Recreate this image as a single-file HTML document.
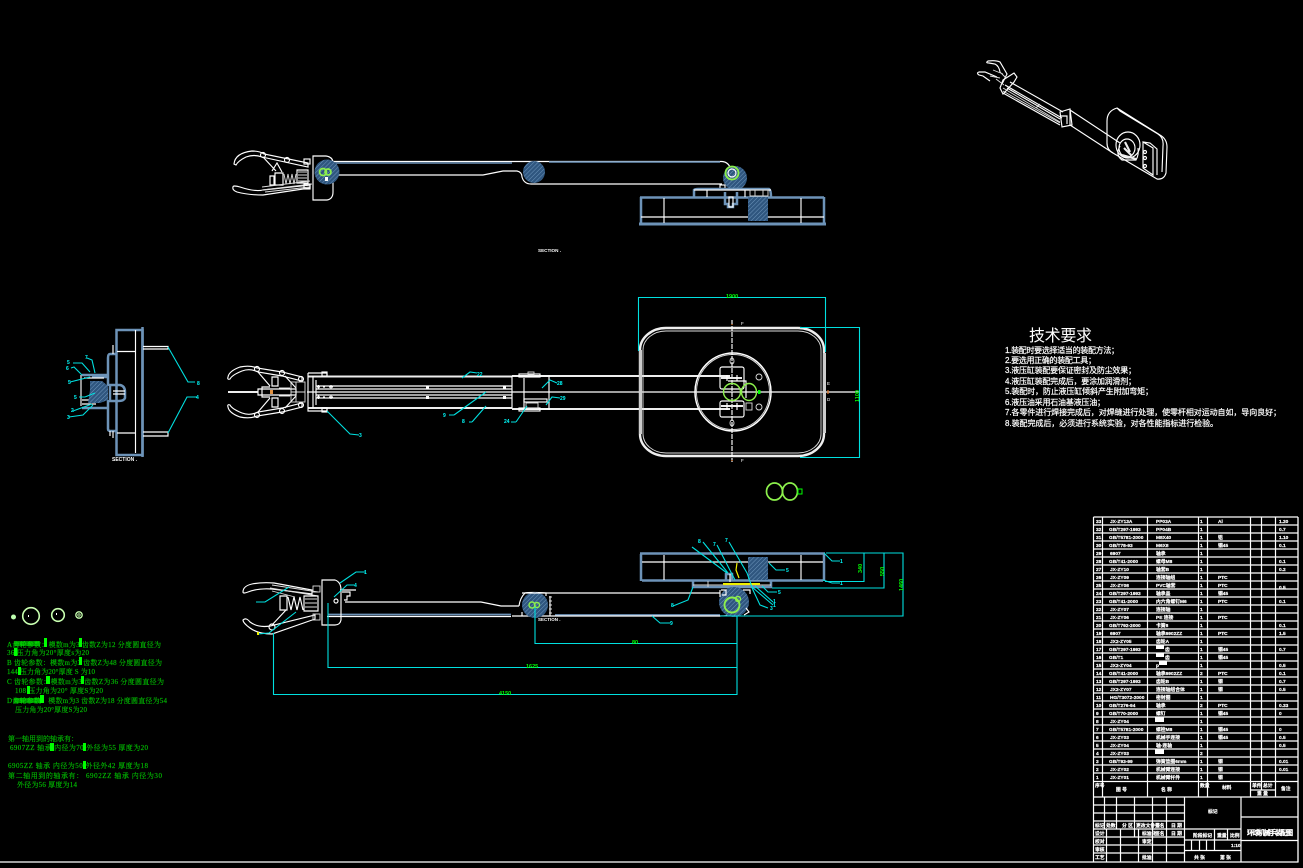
<!DOCTYPE html>
<html><head><meta charset="utf-8"><style>
html,body{margin:0;padding:0;background:#000;width:1303px;height:868px;overflow:hidden}
svg{display:block}
.w{fill:none;stroke:#fff;stroke-width:1.150}
.w2{fill:none;stroke:#eee;stroke-width:2.100}
.t{fill:none;stroke:#ddd;stroke-width:.9}
.b{fill:none;stroke:#6d93b8;stroke-width:2.500}
.c{fill:none;stroke:#00e0e0;stroke-width:1.100}
.g{fill:none;stroke:#8cf04c;stroke-width:1.400}
.h{fill:url(#hat);stroke:none}
.cl{fill:#00ffff;font:bold 5px "Liberation Sans",sans-serif}
.gl{fill:#00ff00;font:bold 5.500px "Liberation Sans",sans-serif}
.tx{fill:#00d800;stroke:#00a000;stroke-width:.15;font:7px "Liberation Serif","Noto Serif CJK SC",serif}
.rq{fill:#fff;stroke:#fff;stroke-width:.2;font:8px "Liberation Sans","Noto Sans CJK SC",sans-serif}
.tb{fill:#fff;stroke:#fff;stroke-width:.2;font:bold 4.800px "Liberation Sans","Noto Sans CJK SC",sans-serif}
</style></head><body>
<svg width="1303" height="868" viewBox="0 0 1303 868" xmlns="http://www.w3.org/2000/svg">
<defs>
<pattern id="hat" width="3" height="3" patternUnits="userSpaceOnUse" patternTransform="rotate(45)">
<rect width="3" height="3" fill="#2f567f"/><line x1="0" y1="0" x2="0" y2="3" stroke="#6d95bb" stroke-width="1"/>
</pattern>
</defs>
<rect width="1303" height="868" fill="#000"/>
<path class="w" d="M0 862H1298V517"/>

<!-- TOP VIEW -->
<g id="top">
<path class="w" d="M333 161.500H722Q729 162 731 170"/>
<path class="b" style="stroke-width:1.600" d="M334 163H512M549 162H720"/>
<path class="w" d="M335 175H483L503 171H517Q522 172 522 177Q524 184 531 184H722"/>
<circle class="h" cx="534" cy="172" r="11"/>
<circle class="h" cx="735" cy="178" r="12"/>
<circle class="g" style="stroke-width:1.800" cx="732" cy="173" r="6.500"/>
<circle class="w" cx="732" cy="173" r="4"/>
<rect class="w" x="720" y="185" width="5" height="4"/>
<!-- base -->
<path class="b" d="M640 197.500H824M641 197V224M824 197V224"/>
<path class="b" style="stroke-width:3" d="M639 224H826"/>
<path class="w" d="M641 217H824M664 198V223M801 198V223"/>
<path class="b" d="M694 197V190Q695 189 698 189H769Q771 190 771 197"/>
<path class="w" d="M694 190H771M707 190V197M745 190V197"/>
<rect class="h" x="748" y="197" width="20" height="24"/>
<path class="b" d="M725 192V204H728V207H733V204H737V192"/>
<rect class="w" x="729" y="197" width="4" height="10"/>
<path class="t" d="M750 190H768V196H750ZM755 190V196M763 190V196"/>
<!-- head -->
<path class="w" d="M313 156V200H327Q333 199 333 192V163Q333 157 326 156Z"/>
<circle class="h" cx="327" cy="172" r="12.500"/>
<circle class="g" style="stroke-width:1.700" cx="323" cy="172" r="3.500"/>
<circle class="g" style="stroke-width:1.700" cx="328" cy="172" r="3"/>
<rect x="325" y="177" width="3" height="4" fill="#fff"/>
<!-- gripper -->
<path class="w" d="M234 164Q235 153 252 151Q260 151 264 154L308 163L308 167L262 157Q254 154 246 157Q238 161 236 165Z"/>
<circle class="w" cx="263" cy="155" r="2.500"/>
<circle class="w" cx="287" cy="160" r="2.500"/>
<path class="w" d="M263 157L276 171M272 171L277 163L282 172"/>
<path class="w" d="M270 176H274V185H270ZM275 173H283V185H275ZM297 170H308V183H297Z"/>
<path class="t" d="M284 174L286 184L288 174L290 184L292 174L294 184L296 174M298 172H307M298 175H307M298 178H307M298 181H307"/>
<path class="w" d="M233 187Q233 185 240 187Q255 192 263 190L310 185V188L263 195Q248 195 237 192Q232 190 233 187Z"/>
<path class="t" d="M262 190L312 184M265 192L310 187M262 187L310 181"/>
<rect class="w" x="304" y="159" width="6" height="5"/>
<rect class="w" x="304" y="184" width="6" height="5"/>
<text x="538" y="252" fill="#fff" style="font:bold 4.600px 'Liberation Sans',sans-serif">SECTION  .</text>
</g>

<!-- MIDDLE VIEW -->
<g id="mid">
<path class="w2" d="M308 376.500H512M308 408H512M512 376H730M512 409H730"/>
<path class="w" d="M316 380V405M512 376V408M316 389H512M316 395H512M307 392H860"/>
<path class="w" d="M316 386H512M316 398H512"/>
<rect x="426" y="386" width="3" height="3" fill="#fff"/><rect x="426" y="396" width="3" height="3" fill="#fff"/>
<rect x="503" y="386" width="3" height="3" fill="#fff"/><rect x="503" y="396" width="3" height="3" fill="#fff"/>
<path class="w" d="M317 387h3M318.500 385v4M323 387h2M329 387h4M331 385v4M317 397h3M318.500 395v4M323 397h2M329 397h4M331 395v4"/>
<!-- joint -->
<path class="w" d="M524 378V408M549 375V410M518 376H550M518 409H550"/>
<rect class="w" x="519" y="374" width="21" height="3"/>
<rect class="w" x="519" y="408" width="21" height="3"/>
<rect class="w" x="524" y="399" width="23" height="3"/>
<rect class="t" x="526" y="403" width="12" height="5"/>
<rect class="t" x="528" y="372" width="6" height="3"/>
<!-- base plate -->
<rect class="w2" x="640" y="328" width="184" height="128" rx="26" ry="22" style="stroke-width:2.400"/>
<rect class="t" x="643" y="331" width="178" height="122" rx="23" ry="19"/>
<rect x="823" y="353" width="3" height="80" fill="#ccc"/>
<rect x="639" y="350" width="3" height="84" fill="#ccc"/>
<ellipse class="w" cx="733" cy="392" rx="38" ry="39" style="stroke-width:1.500"/>
<ellipse class="t" cx="733" cy="392" rx="36.500" ry="37.500"/>
<path class="w" d="M732 320V462" stroke-dasharray="5 1"/>
<rect class="w" x="720" y="367" width="24" height="22" rx="2"/>
<rect class="w" x="720" y="401" width="24" height="16" rx="2"/>
<path class="w2" d="M721 378H742M721 406H743"/>
<path class="w" d="M727 375V381M737 375V381M727 403V410M737 403V410M728 381H746V398"/>
<rect class="t" x="746" y="403" width="6" height="7"/>
<ellipse class="t" cx="732" cy="361" rx="2" ry="3"/>
<ellipse class="t" cx="732" cy="423" rx="2" ry="3"/>
<circle class="t" cx="759" cy="377" r="3"/>
<circle class="t" cx="759" cy="407" r="3"/>
<ellipse class="g" cx="732" cy="392" rx="8.500" ry="8.500"/>
<ellipse class="g" cx="749" cy="392" rx="7.500" ry="8.500"/>
<rect x="758" y="390" width="2.500" height="4" fill="#00ff00"/>
<path stroke="#e07020" stroke-width="1.200" d="M732 324V325M732 460V461M828 390V394" fill="none"/>
<text x="741" y="325" fill="#fff" style="font:4.500px 'Liberation Sans',sans-serif">F</text>
<text x="741" y="462" fill="#fff" style="font:4.500px 'Liberation Sans',sans-serif">F</text>
<text x="827" y="385" fill="#fff" style="font:4.500px 'Liberation Sans',sans-serif">E</text>
<text x="827" y="401" fill="#fff" style="font:4.500px 'Liberation Sans',sans-serif">D</text>
<!-- dims -->
<path class="c" d="M638.500 351V297.500H825.500V352M800 327.500H859.500V457.500H800"/>
<text class="gl" x="726" y="298">1900</text>
<text class="gl" transform="translate(859,402) rotate(-90)">1100</text>
<!-- gripper -->
<g id="gr">
<path class="w" d="M228 377Q229 371 240 367Q250 365 257 368L282 372L302 377V381L282 376L258 372Q250 368 242 371Q232 375 230 379Q227 380 228 377Z"/>
<circle class="w" cx="257" cy="369" r="2.500"/>
<circle class="w" cx="282" cy="373" r="2.500"/>
<circle class="w" cx="301" cy="379" r="2.500"/>
<path class="w" d="M258 372L270 386M272 377V386M272 377H278V386H272ZM285 376L296 388M270 387H262V392"/>
<rect class="t" x="291" y="382" width="14" height="10"/>
<path class="t" d="M296 382V392M279 388H290"/>
</g>
<use href="#gr" transform="translate(0,784) scale(1,-1)"/>
<path class="w2" d="M228 392H258"/>
<path class="w" d="M258 389H296V395H258Z"/>
<rect x="270" y="390" width="3" height="4" fill="#e09040"/>
<path class="w" d="M308 373H327V376M308 373V411H327V408M313 376V408"/>
<rect class="w" x="322" y="372" width="5" height="4"/>
<rect class="w" x="322" y="408" width="5" height="4"/>
<!-- leaders -->
<path class="c" d="M462 378L470 372L477 373M454 415L486 392M472 422L486 406M516 422L527 406M542 388L550 380L557 383M546 405L552 397L560 398M327 411L350 434L359 435"/>
<path class="c" d="M449 415H454M469 422H472M511 422H516"/>
<text class="cl" x="477" y="376">22</text><text class="cl" x="443" y="417">9</text><text class="cl" x="462" y="423">8</text>
<text class="cl" x="504" y="423">24</text><text class="cl" x="557" y="385">28</text><text class="cl" x="560" y="400">29</text><text class="cl" x="359" y="437">3</text>
<!-- small green pair -->
<ellipse class="g" style="stroke-width:1.700" cx="774.500" cy="491.500" rx="8" ry="8.500"/>
<ellipse class="g" style="stroke-width:1.700" cx="790" cy="491.500" rx="7.500" ry="8.500"/>
<rect x="798" y="489" width="4" height="5" fill="none" stroke="#00ff00" stroke-width="1"/>
</g>

<!-- LEFT SECTION -->
<g id="left">
<rect class="b" x="116.500" y="330" width="26" height="125"/>
<path class="b" d="M142.500 327V457"/>
<path class="w" d="M135.500 330V453M117 351.500H135M117 433H135"/>
<path class="w" d="M143 346.500H168V349H143M143 432H168V436H143"/>
<path class="b" d="M116 354H110Q108 354 108 358V386M108 400V429Q108 431 111 431H116"/>
<path class="w" d="M113 345V354M113 431V438M110 431V436"/>
<path class="b" d="M82 375H108M82 408H108M92 377H108"/>
<path class="w" d="M81 375V406M84 378H104M82 400H90M82 404H96"/>
<path class="h" d="M90 381H102L108 386V400L100 403H88L90 390Z"/>
<path class="b" d="M110 385H120Q125 386 125 392V398Q124 401 118 401H110Z"/>
<path class="w" d="M113 391H125M113 394H125"/>
<path class="c" d="M168 347L188 382L195 382M168 433L187 397L197 397M73 363H82L90 372M71 368L74 367L82 375M70 382L90 377M87 358L92 360L95 373M79 397H85M95 393L85 397M73 411L92 404M69 417L83 415L93 405"/>
<text class="cl" x="197" y="385">8</text><text class="cl" x="196" y="399">4</text><text class="cl" x="67" y="364">5</text><text class="cl" x="66" y="370">6</text>
<text class="cl" x="68" y="384">5</text><text class="cl" x="85" y="359">7</text><text class="cl" x="74" y="399">5</text><text class="cl" x="71" y="412">2</text><text class="cl" x="67" y="419">3</text>
<text x="112" y="461" fill="#fff" style="font:bold 5px 'Liberation Sans',sans-serif">SECTION  .</text>
</g>

<!-- BOTTOM VIEW -->
<g id="bot">
<path class="b" d="M640 553.500H825M641 554V581M824 554V581M642 580.500H823"/>
<path class="w" d="M642 562H823M664 555V580M801 555V580"/>
<rect class="h" x="748" y="557" width="20" height="23"/>
<path class="b" d="M693 581V587H771V581"/>
<path class="t" d="M693 585H771M708 581V587"/>
<path class="b" d="M726 580V574H732V580"/>
<path class="w" d="M730 574V582"/>
<path stroke="#f0f000" fill="none" stroke-width="1.200" d="M737 563L736 570L739 578"/>
<path stroke="#f0f000" stroke-width="2" d="M723 584H760"/>
<path class="w" d="M546 593H720M345 602H481L501 606H519"/>
<path class="w" d="M327 616.500H511"/>
<path class="b" style="stroke-width:1.700" d="M328 614.500H511M555 615H720"/>
<path class="w" d="M519 606Q520 598 525 593Q530 592 546 593M512 616H720Q735 616 737 610"/>
<path class="w" d="M322 580H335Q341 582 341 590V620Q340 625 335 625H322Z"/>
<circle cx="336" cy="601" r="2" class="w"/>
<path class="w" d="M342 592H350V596H347V600H344M340 590H356"/>
<!-- gripper -->
<path class="w" d="M243 592Q243 586 252 584Q262 582 274 583L312 590L312 594L272 589Q258 588 248 592Q243 594 243 592Z"/>
<path class="t" d="M272 585L318 592M270 588L318 596M272 591L295 597"/>
<path class="w" d="M280 596H287V610H280ZM288 597L291 610L294 597L297 610L300 597L303 610M304 596H318V611H304Z"/>
<path class="t" d="M305 599H317M305 603H317M305 607H317"/>
<path class="w" d="M243 620Q246 617 250 622Q258 628 270 626L315 615V619L272 634Q258 634 250 628Q243 623 243 620Z"/>
<circle class="w" cx="272" cy="627" r="3"/>
<path class="w" d="M272 625L286 610"/>
<rect x="313" y="586" width="7" height="6" class="t"/><rect x="313" y="614" width="7" height="6" class="t"/>
<!-- pivots -->
<circle class="h" cx="535" cy="605" r="13"/>
<path class="w" d="M522 593H546V596M550 596V616M522 616V612"/>
<path class="t" d="M549 597h3M549 601h3M549 605h3M549 609h3M549 613h3"/>
<circle class="g" cx="532" cy="605" r="3"/><circle class="g" cx="537" cy="605" r="2.500"/>
<text x="538" y="621" fill="#fff" style="font:bold 4.500px 'Liberation Sans',sans-serif">SECTION .</text>
<circle class="h" cx="734" cy="602" r="15"/>
<circle class="g" style="stroke-width:1.900" cx="732" cy="605" r="7.500"/>
<circle cx="738" cy="599" r="2.500" class="g"/>
<path class="w" d="M721 590H726V595H722M743 590H750V594M746 608L749 612L744 615M720 590V597"/>
<!-- dims -->
<path class="c" d="M826 553H903V616H720M825 581.500H864V553M772 588H884V553"/>
<path class="c" d="M535 607V643.500H737M737 616V694.500H273.500V633M328 603V667.500H737"/>
<text class="gl" x="632" y="644">80</text><text class="gl" x="526" y="668">1625</text><text class="gl" x="499" y="695">4150</text>
<text class="gl" transform="translate(862,573) rotate(-90)">340</text>
<text class="gl" transform="translate(884,576) rotate(-90)">550</text>
<text class="gl" transform="translate(903,591) rotate(-90)">1460</text>
<!-- leaders -->
<path class="c" d="M340 583L356 572H365M334 597L347 585H354M256 602H265L289 587M258 634L269 633L296 612"/>
<path class="c" d="M824 553L832 561H840M823 580L832 583H840M769 563L776 570H785"/>
<path class="c" d="M703 542L728 573M692 547L727 573M717 545L735 580M729 542L747 573L753 590L760 605L768 608M752 587L773 605M755 586L773 602M762 586L768 592H777M693 587L688 600L673 606M652 616L660 623H670"/>
<text class="cl" x="364" y="574">1</text><text class="cl" x="354" y="587">4</text><text class="cl" x="698" y="543">8</text><text class="cl" x="713" y="546">7</text><text class="cl" x="725" y="542">7</text>
<text class="cl" x="840" y="563">1</text><text class="cl" x="840" y="585">1</text><text class="cl" x="786" y="572">5</text><text class="cl" x="778" y="594">5</text><text class="cl" x="770" y="610">3</text>
<text class="cl" x="773" y="603">1</text><text class="cl" x="773" y="607">1</text><text class="cl" x="671" y="607">8</text><text class="cl" x="670" y="625">9</text>
<rect x="257" y="632" width="2" height="3" fill="#f0f000"/>
</g>

<!-- ISO VIEW -->
<g id="iso">
<path class="w" d="M1010 82L1063 112M1070 110L1120 143M1003 93L1060 125M1070 125L1113 153M1005 85L1062 118M1007 88L1060 119M1070 110L1070 125"/>
<path class="t" d="M1003 88L1060 122M1003 91L1060 123M1040 104L1036 108"/>
<path class="w" d="M1060 112L1070 109L1072 125L1062 127ZM1060 116H1067V124"/>
<path class="w" d="M1107 143V121Q1107 111 1117 108L1160 135Q1167 139 1167 147L1166 173Q1164 180 1157 179L1113 153Q1107 150 1107 143Z"/>
<path class="w" d="M1117 108L1120 111L1158 134Q1164 138 1163 146L1162 172"/>
<path class="w" d="M1143 142L1153 148V175L1143 168ZM1143 142L1150 143L1157 149V175"/>
<circle cx="1145" cy="152" r="1.500" class="w"/><circle cx="1145" cy="158" r="1.500" class="w"/><circle cx="1145" cy="166" r="1.500" class="w"/>
<ellipse class="w" cx="1128" cy="145" rx="12" ry="13"/>
<ellipse class="w" cx="1127" cy="148" rx="8" ry="9"/>
<path class="w2" d="M1124 148L1132 156M1122 155L1136 159M1125 142L1130 152"/>
<path class="w" d="M1120 146Q1115 155 1122 160L1136 160Q1139 155 1138 148"/>
<!-- head -->
<path class="w" d="M1003 80L1014 73L1017 77L1014 82L1005 92L1003 94L1000 88Z"/>
<path class="w" d="M1002 84L1007 74L1000 62Q996 60 988 61Q985 63 989 63L995 64Q999 66 1000 72M997 77L985 72L979 72Q976 73 979 75L983 76L990 81"/>
<path class="t" d="M993 70L1003 74M990 76L1000 78M996 79L1004 85M1000 72L1006 78"/>
</g>

<!-- REQUIREMENTS -->
<g id="req">
<text x="1029" y="341" fill="#fff" style="font:16px 'Noto Sans CJK SC',sans-serif" textLength="63">技术要求</text>
<text class="rq" x="1005" y="353" textLength="114">1.装配时要选择适当的装配方法；</text>
<text class="rq" x="1005" y="363" textLength="91">2.要选用正确的装配工具；</text>
<text class="rq" x="1005" y="373" textLength="131">3.液压缸装配要保证密封及防尘效果；</text>
<text class="rq" x="1005" y="384" textLength="131">4.液压缸装配完成后，要涂加润滑剂；</text>
<text class="rq" x="1005" y="394" textLength="148">5.装配时，防止液压缸倾斜产生附加弯矩；</text>
<text class="rq" x="1005" y="405" textLength="100">6.液压油采用石油基液压油；</text>
<text class="rq" x="1005" y="415" textLength="276">7.各零件进行焊接完成后，对焊缝进行处理，使零杆相对运动自如，导向良好；</text>
<text class="rq" x="1005" y="426" textLength="213">8.装配完成后，必须进行系统实验，对各性能指标进行检验。</text>
</g>

<!-- GREEN NOTES -->
<g id="notes">
<circle cx="13.500" cy="617" r="2.500" fill="#bfffb0"/>
<circle cx="31" cy="616" r="8.300" fill="none" stroke="#c8ffb0" stroke-width="1.600"/>
<rect x="28" y="615" width="1" height="2" fill="#fff"/>
<circle cx="58" cy="615" r="6.300" fill="none" stroke="#c8ffb0" stroke-width="1.600"/>
<rect x="56" y="613" width="1" height="2" fill="#fff"/>
<circle cx="79" cy="615" r="3.200" fill="none" stroke="#c8ffb0" stroke-width="1.300"/>
<circle cx="79" cy="615" r="1.200" fill="none" stroke="#c8ffb0" stroke-width=".8"/>
<text class="tx" x="7" y="647" textLength="154">A齿轮参数：模数m为3 齿数Z为12  分度圆直径为</text>
<text class="tx" x="7" y="655" textLength="82">36 压力角为20°厚度s为20</text>
<text class="tx" x="7" y="665" textLength="155">B 齿轮参数：模数m为3 齿数Z为48  分度圆直径为</text>
<text class="tx" x="7" y="674" textLength="88">144 压力角为20°厚度 S 为10</text>
<text class="tx" x="7" y="684" textLength="157">C 齿轮参数：模数m为3 齿数Z为36  分度圆直径为</text>
<text class="tx" x="15" y="693" textLength="88">108 压力角为20° 厚度S为20</text>
<text class="tx" x="7" y="703" textLength="160">D齿轮参数：模数m为3 齿数Z为18   分度圆直径为54</text>
<text class="tx" x="15" y="712" textLength="72">压力角为20°厚度S为20</text>
<text class="tx" x="8" y="741" textLength="70">第一轴用到的轴承有：</text>
<text class="tx" x="10" y="750" textLength="138">6907ZZ 轴承  内径为70 外径为55  厚度为20</text>
<text class="tx" x="8" y="768" textLength="140">6905ZZ 轴承   内径为50 外径外42  厚度为18</text>
<text class="tx" x="8" y="778" textLength="154">第二轴用到的轴承有：   6902ZZ 轴承   内径为30</text>
<text class="tx" x="17" y="787" textLength="60">外径为56 厚度为14</text>
<g fill="#00ff00">
<rect x="44" y="638" width="3" height="9"/><rect x="79" y="638" width="3" height="9"/><rect x="14" y="648" width="3.500" height="8"/>
<rect x="79" y="657" width="3" height="8"/><rect x="18" y="667" width="3" height="8"/><rect x="46" y="676" width="4" height="8"/>
<rect x="81" y="676" width="3" height="8"/><rect x="27" y="686" width="3" height="8"/><rect x="40" y="695" width="4" height="8"/>
<rect x="50" y="743" width="4" height="8"/><rect x="83" y="743" width="3" height="8"/><rect x="83" y="761" width="3" height="8"/>
<rect x="14" y="641" width="26" height="5" opacity=".55"/><rect x="14" y="698" width="26" height="5" opacity=".55"/>
</g>
</g>

<!-- TABLE -->
<g id="table">
<path class="w" style="stroke-width:1.200" d="M1093.500 517H1298M1093.500 525H1298M1093.500 533H1298M1093.500 541H1298M1093.500 549H1298M1093.500 557H1298M1093.500 565H1298M1093.500 573H1298M1093.500 581H1298M1093.500 589H1298M1093.500 597H1298M1093.500 605H1298M1093.500 613H1298M1093.500 621H1298M1093.500 629H1298M1093.500 637H1298M1093.500 645H1298M1093.500 653H1298M1093.500 661H1298M1093.500 669H1298M1093.500 677H1298M1093.500 685H1298M1093.500 693H1298M1093.500 701H1298M1093.500 709H1298M1093.500 717H1298M1093.500 725H1298M1093.500 733H1298M1093.500 741H1298M1093.500 749H1298M1093.500 757H1298M1093.500 765H1298M1093.500 773H1298M1093.500 781.500H1298M1093.500 797H1298"/>
<path class="w" style="stroke-width:1.200" d="M1093.500 517V862M1102.500 517V797M1147.500 517V797M1198.500 517V797M1207.500 517V797M1250.500 517V797M1261.500 517V790M1275.500 517V797M1298 517V862M1250 790H1275"/>
<!-- lower block -->
<path class="w" style="stroke-width:1.200" d="M1093.500 805H1184.500M1093.500 813H1184.500M1093.500 821H1184.500M1093.500 829H1184.500M1093.500 837H1184.500M1093.500 845H1184.500M1093.500 853H1184.500"/>
<path class="w" style="stroke-width:1.200" d="M1104.500 797V829M1116.500 797V829M1134.500 797V837M1152.500 797V862M1166.500 797V862M1184.500 797V862M1106.500 829V862M1120.500 829V862M1138.500 829V862"/>
<path class="w" style="stroke-width:1.200" d="M1184.500 829H1241M1184.500 840H1241M1184.500 850.500H1241M1214.500 829V850M1227.500 829V840M1191.500 840V850M1199.500 840V850M1206.500 840V850M1241 797V862M1241 817H1298M1241 840.500H1298"/>
<g id="tt">
<text class="tb" x="1096" y="523">33</text><text class="tb" x="1110" y="523">JX-ZY13A</text><text class="tb" x="1156" y="523">PP03A</text><text class="tb" x="1200" y="523">1</text><text class="tb" x="1218" y="523">Al</text><text class="tb" x="1279" y="523">1.20</text>
<text class="tb" x="1096" y="531">32</text><text class="tb" x="1109" y="531">GB/T297-1993</text><text class="tb" x="1156" y="531">PP04B</text><text class="tb" x="1200" y="531">1</text><text class="tb" x="1279" y="531">0.7</text>
<text class="tb" x="1096" y="539">31</text><text class="tb" x="1109" y="539">GB/T5781-2000</text><text class="tb" x="1156" y="539">M8X40</text><text class="tb" x="1200" y="539">1</text><text class="tb" x="1218" y="539">铝</text><text class="tb" x="1279" y="539">1.10</text>
<text class="tb" x="1096" y="547">30</text><text class="tb" x="1109" y="547">GB/T78-93</text><text class="tb" x="1156" y="547">M6X8</text><text class="tb" x="1200" y="547">1</text><text class="tb" x="1218" y="547">钢45</text><text class="tb" x="1279" y="547">0.1</text>
<text class="tb" x="1096" y="555">29</text><text class="tb" x="1110" y="555">6907</text><text class="tb" x="1156" y="555">轴承</text><text class="tb" x="1200" y="555">1</text>
<text class="tb" x="1096" y="563">28</text><text class="tb" x="1109" y="563">GB/T41-2000</text><text class="tb" x="1156" y="563">螺母M8</text><text class="tb" x="1200" y="563">1</text><text class="tb" x="1279" y="563">0.1</text>
<text class="tb" x="1096" y="571">27</text><text class="tb" x="1110" y="571">JX-ZY10</text><text class="tb" x="1156" y="571">轴套B</text><text class="tb" x="1200" y="571">1</text><text class="tb" x="1279" y="571">0.2</text>
<text class="tb" x="1096" y="579">26</text><text class="tb" x="1110" y="579">JX-ZY09</text><text class="tb" x="1156" y="579">连接轴组</text><text class="tb" x="1200" y="579">1</text><text class="tb" x="1218" y="579">PTC</text>
<text class="tb" x="1096" y="587">25</text><text class="tb" x="1110" y="587">JX-ZY08</text><text class="tb" x="1156" y="587">PVC轴套</text><text class="tb" x="1200" y="587">1</text><text class="tb" x="1218" y="587">PTC</text>
<text class="tb" x="1096" y="595">24</text><text class="tb" x="1109" y="595">GB/T297-1993</text><text class="tb" x="1156" y="595">轴承盖</text><text class="tb" x="1200" y="595">1</text><text class="tb" x="1218" y="595">钢45</text><text class="tb" x="1279" y="589">0.5</text>
<text class="tb" x="1096" y="603">23</text><text class="tb" x="1109" y="603">GB/T41-2000</text><text class="tb" x="1156" y="603">内六角螺钉M6</text><text class="tb" x="1200" y="603">1</text><text class="tb" x="1218" y="603">PTC</text><text class="tb" x="1279" y="603">0.1</text>
<text class="tb" x="1096" y="611">22</text><text class="tb" x="1110" y="611">JX-ZY07</text><text class="tb" x="1156" y="611">连接轴</text><text class="tb" x="1200" y="611">1</text>
<text class="tb" x="1096" y="619">21</text><text class="tb" x="1110" y="619">JX-ZY06</text><text class="tb" x="1156" y="619">PE 连接</text><text class="tb" x="1200" y="619">1</text><text class="tb" x="1218" y="619">PTC</text>
<text class="tb" x="1096" y="627">20</text><text class="tb" x="1109" y="627">GB/T792-2000</text><text class="tb" x="1156" y="627">卡簧8</text><text class="tb" x="1200" y="627">1</text><text class="tb" x="1279" y="627">0.1</text>
<text class="tb" x="1096" y="635">19</text><text class="tb" x="1110" y="635">6907</text><text class="tb" x="1156" y="635">轴承6902ZZ</text><text class="tb" x="1200" y="635">1</text><text class="tb" x="1218" y="635">PTC</text><text class="tb" x="1279" y="635">1.5</text>
<text class="tb" x="1096" y="643">18</text><text class="tb" x="1110" y="643">JX2-ZY05</text><text class="tb" x="1156" y="643">齿轮A</text><text class="tb" x="1200" y="643">1</text>
<text class="tb" x="1096" y="651">17</text><text class="tb" x="1109" y="651">GB/T297-1993</text><rect x="1156" y="645" width="8" height="4" fill="#fff"/><text class="tb" x="1165" y="651">齿</text><text class="tb" x="1200" y="651">1</text><text class="tb" x="1218" y="651">钢45</text><text class="tb" x="1279" y="651">0.7</text>
<text class="tb" x="1096" y="659">16</text><text class="tb" x="1109" y="659">GB/T1</text><rect x="1156" y="653" width="8" height="4" fill="#fff"/><text class="tb" x="1165" y="659">齿</text><text class="tb" x="1200" y="659">1</text><text class="tb" x="1218" y="659">钢45</text>
<text class="tb" x="1096" y="667">15</text><text class="tb" x="1110" y="667">JX2-ZY04</text><rect x="1159" y="661" width="8" height="4" fill="#fff"/><text class="tb" x="1156" y="667">p</text><text class="tb" x="1200" y="667">1</text><text class="tb" x="1279" y="667">0.5</text>
<text class="tb" x="1096" y="675">14</text><text class="tb" x="1109" y="675">GB/T41-2000</text><text class="tb" x="1156" y="675">轴承6902ZZ</text><text class="tb" x="1200" y="675">2</text><text class="tb" x="1218" y="675">PTC</text><text class="tb" x="1279" y="675">0.1</text>
<text class="tb" x="1096" y="683">13</text><text class="tb" x="1109" y="683">GB/T297-1993</text><text class="tb" x="1156" y="683">齿轮B</text><text class="tb" x="1200" y="683">1</text><text class="tb" x="1218" y="683">钢</text><text class="tb" x="1279" y="683">0.7</text>
<text class="tb" x="1096" y="691">12</text><text class="tb" x="1110" y="691">JX2-ZY07</text><text class="tb" x="1156" y="691">连接轴组合体</text><text class="tb" x="1200" y="691">1</text><text class="tb" x="1218" y="691">钢</text><text class="tb" x="1279" y="691">0.5</text>
<text class="tb" x="1096" y="699">11</text><text class="tb" x="1110" y="699">HG/T3072-2000</text><text class="tb" x="1156" y="699">密封圈</text><text class="tb" x="1200" y="699">1</text>
<text class="tb" x="1096" y="707">10</text><text class="tb" x="1109" y="707">GB/T276-94</text><text class="tb" x="1156" y="707">轴承</text><text class="tb" x="1200" y="707">2</text><text class="tb" x="1218" y="707">PTC</text><text class="tb" x="1279" y="707">0.33</text>
<text class="tb" x="1096" y="715">9</text><text class="tb" x="1109" y="715">GB/T70-2000</text><text class="tb" x="1156" y="715">螺钉</text><text class="tb" x="1200" y="715">1</text><text class="tb" x="1218" y="715">钢45</text><text class="tb" x="1279" y="715">0</text>
<text class="tb" x="1096" y="723">8</text><text class="tb" x="1110" y="723">JX-ZY04</text><rect x="1155" y="717" width="9" height="5" fill="#fff"/><text class="tb" x="1200" y="723">1</text>
<text class="tb" x="1096" y="731">7</text><text class="tb" x="1109" y="731">GB/T5781-2000</text><text class="tb" x="1156" y="731">螺栓M8</text><text class="tb" x="1200" y="731">1</text><text class="tb" x="1218" y="731">钢45</text><text class="tb" x="1279" y="731">0</text>
<text class="tb" x="1096" y="739">6</text><text class="tb" x="1110" y="739">JX-ZY03</text><text class="tb" x="1156" y="739">机械手连接</text><text class="tb" x="1200" y="739">1</text><text class="tb" x="1218" y="739">钢45</text><text class="tb" x="1279" y="739">0.5</text>
<text class="tb" x="1096" y="747">5</text><text class="tb" x="1110" y="747">JX-ZY04</text><text class="tb" x="1156" y="747">轴-连轴</text><text class="tb" x="1200" y="747">1</text><text class="tb" x="1279" y="747">0.5</text>
<text class="tb" x="1096" y="755">4</text><text class="tb" x="1110" y="755">JX-ZY03</text><rect x="1155" y="749" width="9" height="5" fill="#fff"/><text class="tb" x="1200" y="755">2</text>
<text class="tb" x="1096" y="763">3</text><text class="tb" x="1109" y="763">GB/T93-99</text><text class="tb" x="1156" y="763">弹簧垫圈6mm</text><text class="tb" x="1200" y="763">1</text><text class="tb" x="1218" y="763">钢</text><text class="tb" x="1279" y="763">0.01</text>
<text class="tb" x="1096" y="771">2</text><text class="tb" x="1110" y="771">JX-ZY02</text><text class="tb" x="1156" y="771">机械臂连接</text><text class="tb" x="1200" y="771">1</text><text class="tb" x="1218" y="771">钢</text><text class="tb" x="1279" y="771">0.01</text>
<text class="tb" x="1096" y="779">1</text><text class="tb" x="1110" y="779">JX-ZY01</text><text class="tb" x="1156" y="779">机械臂杆件</text><text class="tb" x="1200" y="779">1</text><text class="tb" x="1218" y="779">钢</text>
<text class="tb" x="1095" y="787">序号</text><text class="tb" x="1116" y="791">图 号</text><text class="tb" x="1161" y="791">名 称</text><text class="tb" x="1200" y="787">数量</text><text class="tb" x="1222" y="789">材料</text><text class="tb" x="1252" y="787">单件</text><text class="tb" x="1263" y="787">总计</text><text class="tb" x="1257" y="795">重 量</text><text class="tb" x="1281" y="790">备注</text>
<text class="tb" x="1095" y="827">标记</text><text class="tb" x="1106" y="827">处数</text><text class="tb" x="1122" y="827">分 区</text><text class="tb" x="1136" y="827">更改文件号</text><text class="tb" x="1155" y="827">签名</text><text class="tb" x="1171" y="827">日 期</text>
<text class="tb" x="1095" y="835">设计</text><text class="tb" x="1142" y="835">标准化</text><text class="tb" x="1155" y="835">签名</text><text class="tb" x="1171" y="835">日 期</text>
<text class="tb" x="1095" y="843">校对</text><text class="tb" x="1142" y="843">审定</text><text class="tb" x="1095" y="851">审核</text><text class="tb" x="1095" y="859">工艺</text><text class="tb" x="1142" y="859">批准</text>
<text class="tb" x="1208" y="813">标记</text><text class="tb" x="1193" y="837">阶段标记</text><text class="tb" x="1217" y="837">重量</text><text class="tb" x="1230" y="837">比例</text><text class="tb" x="1231" y="847">1:10</text>
<text class="tb" x="1194" y="859">共 张</text><text class="tb" x="1220" y="859">第 张</text>
<text x="1247" y="835" fill="#fff" stroke="#fff" stroke-width=".3" style="font:bold 6.800px 'Liberation Sans','Noto Sans CJK SC',sans-serif" textLength="46">环球机械手装配图</text>
</g>
</g>
</svg>
</body></html>
